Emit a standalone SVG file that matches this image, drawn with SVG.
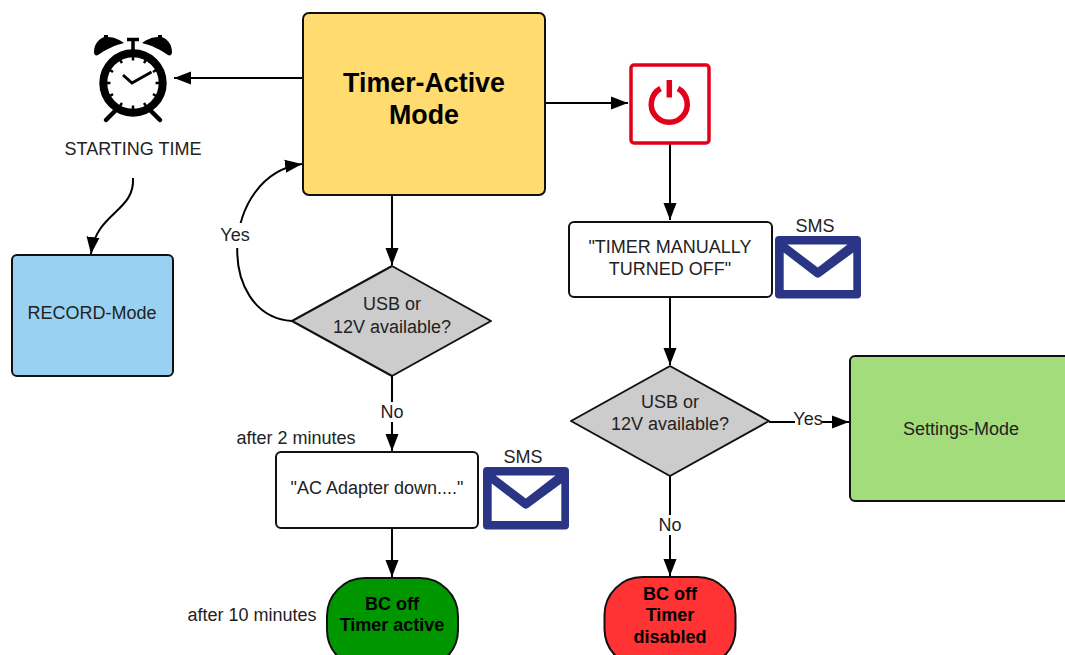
<svg xmlns="http://www.w3.org/2000/svg" width="1065" height="655" viewBox="0 0 1065 655">
<style>
text{font-family:"Liberation Sans",Arial,sans-serif;font-size:18px;fill:#222;text-anchor:middle}
.b{font-weight:bold;fill:#000}
.w{stroke:#111;stroke-width:2;fill:#fff}
.c{fill:none;stroke:#000;stroke-width:2;marker-end:url(#a)}
.bg{fill:#fff}
</style>
<defs>
<marker id="a" markerUnits="userSpaceOnUse" markerWidth="18" markerHeight="14" refX="17" refY="7" orient="auto"><path d="M0 0.5L17 7L0 13.5z" fill="#000"/></marker>
<g id="envelope">
<rect width="86" height="62.500" rx="4" fill="#2a3585"/>
<path d="M12.500 8.500H72.500L42.800 31.500Z" fill="#fff"/>
<path d="M8.700 16.500V54H78.300V16.500L45 41Q42.800 42.500 40.600 41Z" fill="#fff"/>
</g>
</defs>
<rect width="1065" height="655" fill="#fff"/>
<g id="connectors">
<path class="c" d="M303 78H174"/>
<path class="c" d="M545 103H628"/>
<path class="c" d="M133 178C135 212 96 212 91 254"/>
<path class="c" d="M392 195V265"/>
<path class="c" d="M292 321C215 316 220 175 302 164"/>
<path class="c" d="M392 376V451"/>
<path class="c" d="M392 528V577"/>
<path class="c" d="M670 144V220"/>
<path class="c" d="M670 297V365"/>
<path class="c" d="M769 422H849"/>
<path class="c" d="M670 476V576"/>
<rect class="bg" x="218" y="223" width="34" height="25"/>
<rect class="bg" x="378" y="402" width="28" height="20"/>
<rect class="bg" x="795" y="410" width="27" height="20"/>
<rect class="bg" x="656" y="515" width="28" height="20"/>
<text x="235" y="241">Yes</text>
<text x="392" y="418">No</text>
<text x="808" y="425">Yes</text>
<text x="670" y="531">No</text>
</g>
<g id="timer-active">
<rect x="303" y="13" width="242" height="182" rx="6" fill="#ffdb70" stroke="#111" stroke-width="2"/>
<text class="b" x="424" y="92" style="font-size:26.800px">Timer-Active</text>
<text class="b" x="424" y="124" style="font-size:26.800px">Mode</text>
</g>
<g id="clock">
<circle cx="133" cy="83" r="29.700" fill="#fff" stroke="#000" stroke-width="8"/>
<path id="bell" d="M94 52C94 44 99 39 104 37L104 35L108 35L108 37C114 37 120 40 124 43C115 45 105 50 98 55C96 56 94 55 94 52Z" fill="#000"/>
<path d="M172 52C172 44 167 39 162 37L162 35L158 35L158 37C152 37 146 40 142 43C151 45 161 50 168 55C170 56 172 55 172 52Z" fill="#000"/>
<path d="M127 39.500H139M133 39.500V50" stroke="#000" stroke-width="3.500" fill="none"/>
<path d="M106 120L116 110M160 120L150 110" stroke="#000" stroke-width="4.500" stroke-linecap="round" fill="none"/>
<path d="M123 75L132 83L151.500 72" stroke="#000" stroke-width="3" fill="none"/>
<path d="M133 57V60.500M133 105.500V109M107 83H110.500M155.500 83H159M120 60L122 63M146 60L144 63M110 70L113 72M156 70L153 72M110 96L113 94M156 96L153 94M120 106L122 103M146 106L144 103" stroke="#000" stroke-width="2.500" fill="none"/>
<text x="133" y="155">STARTING TIME</text>
</g>
<g id="record-mode">
<rect x="12" y="255" width="161" height="121" rx="5" fill="#99d1f3" stroke="#111" stroke-width="2"/>
<text x="92" y="319">RECORD-Mode</text>
</g>
<g id="power">
<rect x="631" y="65" width="78" height="78" rx="3" fill="#fff" stroke="#e2001a" stroke-width="3.500"/>
<path d="M660.500 88.500A18 18 0 1 0 678 88.500" fill="none" stroke="#e2001a" stroke-width="5.500"/>
<path d="M669.300 80V97.500" stroke="#e2001a" stroke-width="5.500" fill="none"/>
</g>
<g id="manual-off">
<rect class="w" x="569" y="222" width="203" height="75" rx="5"/>
<text x="670" y="253">"TIMER MANUALLY</text>
<text x="670" y="275">TURNED OFF"</text>
</g>
<g id="sms-1">
<use href="#envelope" x="775" y="236"/>
<text x="815" y="232">SMS</text>
</g>
<g id="usb-1">
<path d="M392 266L491 321L392 376L292 321Z" fill="#ccc" stroke="#111" stroke-width="2" stroke-linejoin="round"/>
<text x="392" y="310">USB or</text>
<text x="392" y="333">12V available?</text>
</g>
<g id="usb-2">
<path d="M670 366L769 421L670 476L571 421Z" fill="#ccc" stroke="#111" stroke-width="2" stroke-linejoin="round"/>
<text x="670" y="408">USB or</text>
<text x="670" y="430">12V available?</text>
</g>
<g id="settings-mode">
<rect x="850" y="356" width="225" height="145" rx="5" fill="#a3dc7a" stroke="#111" stroke-width="2"/>
<text x="961" y="435">Settings-Mode</text>
</g>
<g id="ac-adapter">
<text x="296" y="444">after 2 minutes</text>
<rect class="w" x="276" y="452" width="202" height="76" rx="5"/>
<text x="377" y="494">"AC Adapter down...."</text>
</g>
<g id="sms-2">
<use href="#envelope" x="483" y="467"/>
<text x="523" y="463">SMS</text>
</g>
<g id="bc-off-active">
<text x="252" y="621">after 10 minutes</text>
<rect x="327" y="578" width="131" height="90" rx="38" fill="#009600" stroke="#111" stroke-width="2"/>
<text class="b" x="392" y="610">BC off</text>
<text class="b" x="392" y="631">Timer active</text>
</g>
<g id="bc-off-disabled">
<rect x="604.500" y="577" width="131" height="90" rx="38" fill="#ff3333" stroke="#111" stroke-width="2"/>
<text class="b" x="670" y="600">BC off</text>
<text class="b" x="670" y="621">Timer</text>
<text class="b" x="670" y="643">disabled</text>
</g>
</svg>
